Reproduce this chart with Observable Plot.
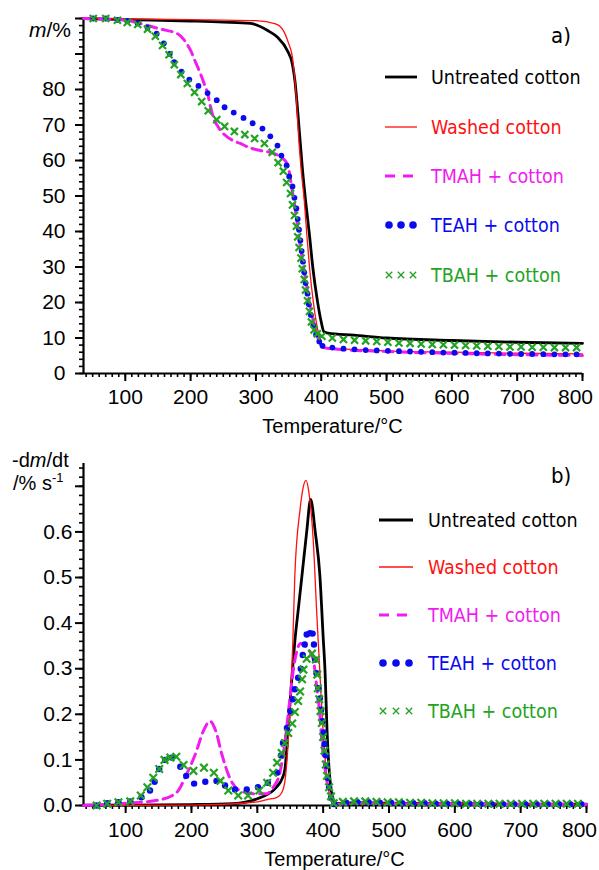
<!DOCTYPE html>
<html><head><meta charset="utf-8">
<script src="https://cdn.jsdelivr.net/npm/d3@7"></script>
<script src="https://cdn.jsdelivr.net/npm/@observablehq/plot@0.6"></script>
<style>
body{margin:0;background:#fff;width:599px;height:870px;overflow:hidden}
#a,#b{position:absolute;left:0}
#a{top:0}#b{top:435px}
</style></head><body><div id="a"></div><div id="b"></div>
<script>
const seriesNames = ["Untreated cotton","Washed cotton","TMAH + cotton","TEAH + cotton","TBAH + cotton"];
const seriesColors = ["#000000","#ff1010","#f01cf0","#0a0af0","#22a322"];
const xMajorTicks = [100,200,300,400,500,600,700];
const xLastTick = [800];
const yMajorTop = [0,10,20,30,40,50,60,70,80,90,100];
const yLabelsTop = [0,10,20,30,40,50,60,70,80];
const yMajorBottom = [0,0.1,0.2,0.3,0.4,0.5,0.6,0.7];
const yLabelsBottom = [0,0.1,0.2,0.3,0.4,0.5,0.6];

// Panel a) mass %  [temperature °C, m %]
const massUntreated = [[36,100],[100,99.7],[200,99.3],[250,99.0],[292,98.6],[318,96.6],[333,94.7],[348,91],[356,87],[360,82],[363,76],[367,67],[371,58],[376,48.7],[382,39],[387,30],[394,20.6],[400,14.5],[404,11.8],[410,11.4],[450,10.8],[500,10.0],[600,9.3],[700,8.8],[800,8.5]];
const massWashed = [[36,100],[200,99.7],[300,99.4],[330,98.5],[342,96.6],[350,93],[356,89],[359,84],[362,77],[365,67.6],[369,58],[374,48.7],[378,39],[382,30],[388,20],[395,12],[401,8],[408,7.2],[450,6.8],[500,6.4],[600,6.0],[700,5.7],[800,5.5]];
const massTMAH = [[36,100],[100,99.5],[123,98.6],[154,97],[180,95.7],[190,94],[200,91],[208,87.5],[215,84.5],[221,81.5],[226,79],[230,75.5],[235,72],[242,69.5],[250,67.6],[263,65.8],[276,64.8],[292,63.5],[307,62.8],[327,62],[338,61],[348,59],[356,51],[362,44],[367,37],[373,30],[379,23],[384,18],[389,14],[395,10],[403,7.3],[420,6.9],[500,6.2],[600,5.7],[700,5.3],[800,5.1]];
const massTEAH = [[51,100],[70,100],[88,99.6],[103,99.3],[119,98.6],[134,97.4],[148,95.7],[159,93],[168,90],[175,87.7],[186,85],[198,82.8],[212,81],[226,79],[240,77],[252,75],[266,73.5],[281,72],[295,70.5],[310,69],[322,66.8],[333,64.2],[339,61.4],[347,58.6],[351,55.5],[356,52.7],[359,49.5],[362,46.5],[364,43.5],[366,40.5],[368,37.5],[370,34.5],[372,31.5],[374,28.5],[376,25.5],[379,22.5],[381,19.5],[384,16.5],[388,13.5],[392,11],[397,9],[402,7.8],[417,7.3],[434,7.0],[451,6.8],[468,6.6],[485,6.5],[502,6.4],[519,6.3],[536,6.2],[553,6.1],[570,6.0],[587,5.9],[604,5.85],[621,5.8],[638,5.7],[655,5.65],[672,5.6],[689,5.55],[706,5.5],[723,5.5],[740,5.45],[757,5.4],[774,5.4],[791,5.4]];
const massTBAH = [[51,100],[70,100],[88,99.5],[103,98.9],[119,98.3],[134,97],[146,95],[157,92.4],[167,89.8],[175,87],[185,84.2],[195,81.7],[206,79.2],[217,76.6],[227,74],[240,71.5],[252,69.6],[267,68.2],[283,67.3],[298,66.2],[313,64.8],[325,62.3],[334,59.4],[342,57],[347,53.8],[353,50.7],[356,47.5],[359,44.5],[362,41.5],[364,38.5],[366,35.5],[369,32.5],[371,29.5],[374,26.5],[376,23.5],[379,20.5],[382,17.5],[385,14.5],[389,12.3],[394,11.2],[401,10.5],[417,10],[434,9.6],[451,9.4],[468,9.2],[485,9.0],[502,8.8],[519,8.6],[536,8.5],[553,8.3],[570,8.2],[587,8.1],[604,8.0],[621,7.9],[638,7.8],[655,7.7],[672,7.6],[689,7.5],[706,7.5],[723,7.4],[740,7.4],[757,7.3],[774,7.3],[791,7.3]];

// Panel b) -dm/dt  [temperature °C, %/s]
const rateUntreated = [[36,0.001],[100,0.001],[200,0.002],[263,0.004],[304,0.017],[329,0.04],[338,0.06],[342,0.08],[345,0.13],[348,0.19],[353,0.29],[357,0.36],[363,0.44],[369,0.52],[375,0.6],[381,0.671],[388,0.6],[395,0.505],[400,0.37],[403,0.29],[406,0.16],[409,0.08],[412,0.035],[416,0.008],[420,0.004],[450,0.006],[500,0.005],[600,0.004],[700,0.003],[800,0.003]];
const rateWashed = [[36,0],[200,0.001],[300,0.008],[315,0.013],[330,0.018],[337,0.028],[342,0.054],[347,0.14],[351,0.25],[354,0.36],[357,0.505],[365,0.65],[370,0.7],[374,0.713],[378,0.69],[385,0.58],[390,0.43],[394,0.32],[398,0.21],[402,0.12],[406,0.06],[410,0.02],[415,0.004],[450,0.005],[800,0.003]];
const rateTMAH = [[36,0],[100,0.005],[150,0.012],[177,0.028],[193,0.07],[206,0.113],[218,0.163],[228,0.185],[237,0.163],[246,0.113],[258,0.061],[273,0.033],[293,0.026],[314,0.026],[324,0.04],[334,0.07],[342,0.14],[350,0.24],[356,0.31],[366,0.355],[376,0.345],[385,0.32],[391,0.25],[395,0.2],[398,0.14],[402,0.09],[405,0.06],[410,0.025],[415,0.008],[420,0.003],[450,0.005],[500,0.004],[600,0.003],[800,0.002]];
const rateTEAH = [[56,0.0],[72,0.005],[89,0.007],[107,0.009],[124,0.018],[137,0.033],[144,0.052],[151,0.08],[160,0.1],[170,0.105],[183,0.085],[192,0.065],[204,0.048],[221,0.052],[238,0.054],[251,0.044],[266,0.035],[284,0.035],[301,0.04],[316,0.05],[330,0.072],[336,0.11],[339,0.137],[345,0.17],[350,0.207],[354,0.233],[357,0.255],[362,0.28],[366,0.3],[369,0.33],[372,0.353],[375,0.375],[380,0.378],[384,0.377],[386,0.353],[388,0.32],[390,0.29],[393,0.257],[395,0.235],[397,0.21],[399,0.185],[401,0.16],[402,0.135],[404,0.11],[405,0.087],[407,0.061],[409,0.04],[412,0.017],[417,0.003],[435,0.006],[452,0.007],[469,0.007],[486,0.006],[503,0.006],[520,0.005],[537,0.005],[554,0.005],[571,0.004],[588,0.004],[605,0.004],[622,0.004],[639,0.003],[656,0.003],[673,0.003],[690,0.003],[707,0.003],[724,0.003],[741,0.003],[758,0.003],[775,0.003],[792,0.003]];
const rateTBAH = [[56,0],[72,0.004],[89,0.007],[107,0.009],[123,0.022],[133,0.04],[142,0.061],[151,0.08],[159,0.1],[168,0.105],[177,0.107],[188,0.089],[203,0.076],[219,0.083],[234,0.072],[244,0.054],[256,0.033],[271,0.022],[286,0.022],[303,0.033],[315,0.05],[324,0.072],[330,0.094],[337,0.115],[342,0.137],[347,0.159],[353,0.18],[357,0.205],[362,0.229],[365,0.25],[368,0.277],[370,0.298],[375,0.322],[383,0.333],[389,0.32],[391,0.287],[392,0.257],[394,0.233],[396,0.207],[398,0.181],[400,0.15],[402,0.12],[404,0.09],[406,0.065],[409,0.04],[412,0.02],[416,0.005],[430,0.008],[447,0.009],[464,0.009],[481,0.008],[498,0.007],[515,0.007],[532,0.006],[549,0.006],[566,0.005],[583,0.005],[600,0.005],[617,0.004],[634,0.004],[651,0.004],[668,0.004],[685,0.004],[702,0.004],[719,0.004],[736,0.004],[753,0.004],[770,0.004],[787,0.004]];

const TICK_FONT = "'Liberation Sans', Arial, sans-serif";
const LEG_FONT = "'DejaVu Sans Condensed', 'DejaVu Sans', Verdana, sans-serif";
const X = d => d[0], Y = d => d[1];

function panel(o) {
  const chart = Plot.plot({
    width: 599, height: 435,
    marginLeft: 83, marginRight: o.mr, marginTop: o.mt, marginBottom: o.mb,
    x: {domain: [36, 800]},
    y: {domain: o.yDomain},
    style: {fontFamily: TICK_FONT, fontSize: "21px", color: "#000", background: "#fff", overflow: "visible"},
    marks: [
      Plot.axisX({ticks: xMajorTicks, tickSize: 8, tickPadding: o.xpad, strokeWidth: 2, label: null, fontSize: 21}),
      Plot.axisX({ticks: xLastTick, tickSize: 8, tickPadding: o.xpad, strokeWidth: 2, label: null, fontSize: 21, text: null}),
      Plot.axisX({ticks: xLastTick, tickSize: 0, tickPadding: o.xpad + 8, label: null, fontSize: 21, dx: -7}),
      Plot.axisX({ticks: d3.range(40, 801, 10), tickSize: 4, text: null, strokeWidth: 1.6, label: null}),
      Plot.axisY({ticks: o.yMajor, tickSize: 8, tickPadding: o.ypad, strokeWidth: 2, label: null, fontSize: 21,
        tickFormat: d => o.yLabels.some(v => Math.abs(v - d) < 1e-9) ? o.fmt(d) : ""}),
      Plot.axisY({ticks: o.yMinor, tickSize: 4, text: null, strokeWidth: 1.6, label: null}),
      Plot.ruleX([36], {y1: o.yDomain[0], y2: o.yDomain[1], strokeWidth: 2.2}),
      Plot.ruleY([o.yDomain[0]], {x1: 36, x2: 800, strokeWidth: 2.2}),
      Plot.line(o.s[0], {x: X, y: Y, stroke: seriesColors[0], strokeWidth: 2.8, curve: "monotone-x"}),
      Plot.line(o.s[1], {x: X, y: Y, stroke: seriesColors[1], strokeWidth: 1.3, curve: "monotone-x"}),
      Plot.line(o.s[2], {x: X, y: Y, stroke: seriesColors[2], strokeWidth: 3, strokeDasharray: "10,6", curve: "monotone-x"}),
      Plot.dot(o.s[3], {x: X, y: Y, r: o.dotR, fill: seriesColors[3], stroke: "none"}),
      Plot.dot(o.s[4], {x: X, y: Y, r: o.xR, symbol: "times", stroke: seriesColors[4], strokeWidth: 2.2})
    ]
  });
  const svg = d3.select(chart);
  const xs = chart.scale("x");
  const cx = (xs.apply(36) + xs.apply(800)) / 2;
  svg.append("text").attr("x", cx).attr("y", o.xLabelY).attr("text-anchor", "middle")
    .attr("font-family", TICK_FONT).attr("font-size", 20).attr("fill", "#000").text("Temperature/°C");
  svg.append("text").attr("x", 551).attr("y", o.letterY).attr("text-anchor", "start").attr("font-family", LEG_FONT)
    .attr("font-size", 22).attr("fill", "#000").text(o.letter);
  const g = svg.append("g");
  seriesNames.forEach((name, i) => {
    const y = o.legRows[i];
    const [a, b] = o.legX;
    if (i < 2) {
      g.append("line").attr("x1", a).attr("x2", b).attr("y1", y).attr("y2", y)
        .attr("stroke", seriesColors[i]).attr("stroke-width", i === 0 ? 2.8 : 1.3);
    } else if (i === 2) {
      g.append("line").attr("x1", a).attr("x2", b).attr("y1", y).attr("y2", y)
        .attr("stroke", seriesColors[i]).attr("stroke-width", 3).attr("stroke-dasharray", "10,8");
    } else if (i === 3) {
      [0, 0.5, 1].forEach(f => g.append("circle").attr("cx", a + 4 + f * (b - a - 8)).attr("cy", y).attr("r", 3.8).attr("fill", seriesColors[i]));
    } else {
      [0, 0.5, 1].forEach(f => {
        const px = a + 4 + f * (b - a - 8), s = 3.2;
        g.append("path").attr("d", `M${px-s},${y-s}L${px+s},${y+s}M${px-s},${y+s}L${px+s},${y-s}`)
          .attr("stroke", seriesColors[i]).attr("stroke-width", 1.3);
      });
    }
    g.append("text").attr("x", o.legText).attr("y", y + 7).attr("text-anchor", "start").attr("font-family", LEG_FONT)
      .attr("font-stretch", "condensed").attr("font-size", 19.5).attr("fill", seriesColors[i]).text(name);
  });
  o.yTitle(svg);
  return chart;
}

document.getElementById("a").appendChild(panel({
  mt: 18, mb: 62, mr: 17, xpad: 8, ypad: 10,
  yDomain: [0, 100], yMajor: yMajorTop, yLabels: yLabelsTop, yMinor: d3.range(0, 101, 2), fmt: d => String(d),
  s: [massUntreated, massWashed, massTMAH, massTEAH, massTBAH], dotR: 2.9, xR: 3.3,
  xLabelY: 433, letter: "a)", letterY: 43,
  legRows: [77, 127, 176, 225, 275], legX: [385, 417], legText: 431,
  yTitle: svg => {
    const t = svg.append("text").attr("x", 29).attr("y", 37).attr("text-anchor", "start").attr("font-family", TICK_FONT).attr("font-size", 21).attr("fill", "#000");
    t.append("tspan").attr("font-style", "italic").text("m");
    t.append("tspan").text("/%");
  }
}));

document.getElementById("b").appendChild(panel({
  mt: 28, mb: 65, mr: 13, xpad: 9, ypad: 3,
  yDomain: [0, 0.75], yMajor: yMajorBottom, yLabels: yLabelsBottom, yMinor: d3.range(0, 0.7401, 0.02), fmt: d => d.toFixed(1),
  s: [rateUntreated, rateWashed, rateTMAH, rateTEAH, rateTBAH], dotR: 3.2, xR: 3.5,
  xLabelY: 431, letter: "b)", letterY: 48,
  legRows: [85, 132, 180, 228, 276], legX: [379, 413], legText: 428,
  yTitle: svg => {
    const t = svg.append("text").attr("x", 12).attr("y", 32).attr("text-anchor", "start").attr("font-family", TICK_FONT).attr("font-size", 20).attr("fill", "#000");
    t.append("tspan").text("-d");
    t.append("tspan").attr("font-style", "italic").text("m");
    t.append("tspan").text("/dt");
    const t2 = svg.append("text").attr("x", 13).attr("y", 55).attr("text-anchor", "start").attr("font-family", TICK_FONT).attr("font-size", 20).attr("fill", "#000");
    t2.append("tspan").text("/% s");
    t2.append("tspan").attr("font-size", 13).attr("dy", -8).text("-1");
  }
}));
</script></body></html>
